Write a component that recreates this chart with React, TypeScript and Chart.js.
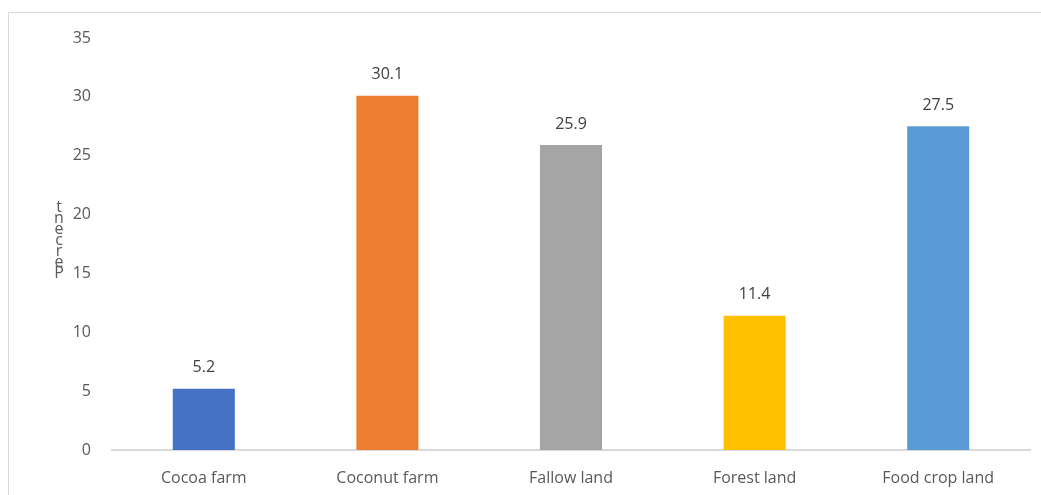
import React, { useEffect, useRef } from "react";
import { Chart, registerables } from "chart.js";

Chart.register(...registerables);

const categories = ["Cocoa farm", "Coconut farm", "Fallow land", "Forest land", "Food crop land"];
const percentValues = [5.2, 30.1, 25.9, 11.4, 27.5];
const barColors = ["#4472C4", "#ED7D31", "#A5A5A5", "#FFC000", "#5B9BD5"];
const axisTitle = "Percent";

const FONT = "'Open Sans', 'Liberation Sans', sans-serif";
const TEXT = "#595959";

// Value labels above each bar
const valueLabels = {
  id: "valueLabels",
  afterDatasetsDraw(chart: any) {
    const ctx = chart.ctx;
    const meta = chart.getDatasetMeta(0);
    ctx.save();
    ctx.font = `16px ${FONT}`;
    ctx.fillStyle = "#404040";
    ctx.textAlign = "center";
    ctx.textBaseline = "middle";
    meta.data.forEach((bar: any, i: number) => {
      ctx.fillText(String(percentValues[i]), bar.x, bar.y - 21);
    });
    ctx.restore();
  },
};

// Y-axis title, letters stacked bottom-to-top and kept upright
const stackedTitle = {
  id: "stackedTitle",
  afterDraw(chart: any) {
    const ctx = chart.ctx;
    ctx.save();
    ctx.font = `16px ${FONT}`;
    ctx.fillStyle = TEXT;
    ctx.textAlign = "center";
    ctx.textBaseline = "middle";
    const letters = axisTitle.split("");
    letters.forEach((ch, i) => {
      ctx.fillText(ch, 59, 273 - i * 11);
    });
    ctx.restore();
  },
};

export default function App() {
  const canvasRef = useRef<HTMLCanvasElement>(null);

  useEffect(() => {
    const chart = new Chart(canvasRef.current!, {
      type: "bar",
      data: {
        labels: categories,
        datasets: [
          {
            data: percentValues,
            backgroundColor: barColors,
            barPercentage: 0.338,
            categoryPercentage: 1,
          },
        ],
      },
      options: {
        animation: false,
        responsive: false,
        layout: { padding: { left: 0, top: 38, right: 11, bottom: 0 } },
        plugins: { legend: { display: false }, tooltip: { enabled: false } },
        scales: {
          x: {
            afterFit: (s: any) => {
              s.height = 45;
            },
            grid: { display: false, drawTicks: false },
            border: { display: true, color: "#d9d9d9", width: 2 },
            ticks: { color: TEXT, font: { family: FONT, size: 16 }, padding: 19 },
          },
          y: {
            min: 0,
            max: 35,
            afterFit: (s: any) => {
              s.width = 112;
            },
            grid: { display: false, drawTicks: false },
            border: { display: false },
            ticks: { stepSize: 5, color: TEXT, font: { family: FONT, size: 16 }, padding: 21 },
          },
        },
      },
      plugins: [valueLabels, stackedTitle],
    });
    return () => chart.destroy();
  }, []);

  return (
    <div style={{ position: "fixed", left: 0, top: 0, width: 1041, height: 495, background: "#fff" }}>
      <div
        style={{
          position: "absolute",
          left: 8,
          top: 12,
          width: 1100,
          height: 600,
          border: "1px solid #d9d9d9",
          boxSizing: "border-box",
        }}
      />
      <canvas ref={canvasRef} width={1041} height={495} style={{ position: "absolute", left: 0, top: 0 }} />
    </div>
  );
}
